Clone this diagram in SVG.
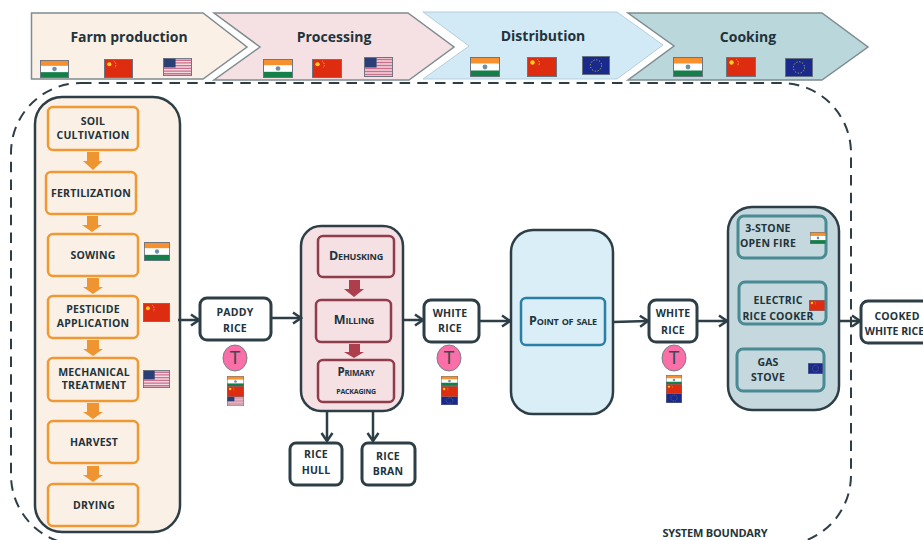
<svg xmlns="http://www.w3.org/2000/svg" width="923" height="540" viewBox="0 0 923 540">
<style>
text{font-family:"Open Sans","Liberation Sans",sans-serif;font-weight:700;fill:#22333b;text-anchor:middle}
.h{font-size:14px}
.l{font-size:10.5px;letter-spacing:.2px}
.s{font-size:12.500px;font-variant:small-caps;letter-spacing:-.2px}
.chev{stroke:#7f8c90;stroke-width:1.5}
.panel{stroke:#2d3e46;stroke-width:2.5}
.o{fill:#fbf0e6;stroke:#ee9933;stroke-width:2.5}
.r{fill:#f5e1e4;stroke:#8f3d4a;stroke-width:2.5}
.b{fill:#d9eef6;stroke:#2a7fa5;stroke-width:2.5}
.t{fill:#c5d8dd;stroke:#4a8a93;stroke-width:3}
.w{fill:#fff;stroke:#2d3e46;stroke-width:3}
.circ{fill:#fb6fa8;stroke:#7a7f85;stroke-width:1}
.tt{font-size:18px;font-weight:400;font-family:"Liberation Sans",sans-serif;fill:#3a4a52}
.c{stroke:#2d3e46;stroke-width:2.5;fill:none;marker-end:url(#open)}
.bd{fill:none;stroke:#2d3e46;stroke-width:2;stroke-dasharray:10.5 7.2}
.oa{fill:#ee9430}
.ra{fill:#ad3f4d}
</style>
<defs>
<marker id="open" markerUnits="userSpaceOnUse" markerWidth="12" markerHeight="14" refX="10" refY="7" orient="auto"><path d="M2,1.5 L10,7 L2,12.5" fill="none" stroke="#2d3e46" stroke-width="2.5"/></marker>
<symbol id="in" viewBox="0 0 30 20" preserveAspectRatio="none"><rect width="30" height="20" fill="#fff"/><rect width="30" height="6.500" fill="#f7902f"/><rect y="13.500" width="30" height="6.500" fill="#157f4a"/><circle cx="15" cy="10" r="2.400" fill="#6f8fa8"/><rect x=".5" y=".5" width="29" height="19" fill="none" stroke="#6b7580"/></symbol>
<symbol id="cn" viewBox="0 0 30 20" preserveAspectRatio="none"><rect width="30" height="20" fill="#dd2c10"/><circle cx="5.500" cy="5.500" r="2.200" fill="#f5d01e"/><path d="M10,2 a5,5 0 0 1 1.500,7" fill="none" stroke="#f0b020" stroke-width="1" stroke-dasharray="1.500 1"/><rect x=".5" y=".5" width="29" height="19" fill="none" stroke="#6b7580"/></symbol>
<symbol id="us" viewBox="0 0 30 20" preserveAspectRatio="none"><rect width="30" height="20" fill="#f4d9e0"/><path d="M0,2.500H30M0,5.500H30M0,8.500H30M0,11.500H30M0,14.500H30M0,17.500H30" stroke="#c9708c" stroke-width="1.400"/><rect width="13" height="10.500" fill="#2a3f75"/><rect x=".5" y=".5" width="29" height="19" fill="none" stroke="#6b7580"/></symbol>
<symbol id="eu" viewBox="0 0 30 20" preserveAspectRatio="none"><rect width="30" height="20" fill="#1a2a8c"/><circle cx="15" cy="10" r="6" fill="none" stroke="#c9b84a" stroke-width="1" stroke-dasharray="1.200 1.900"/><rect x=".5" y=".5" width="29" height="19" fill="none" stroke="#6b7580"/></symbol>
</defs>

<g id="stage-farm"><path class="chev" fill="#fbf0e6" d="M31.500,13H203L247,47L203,79H31.500Z"/><text class="h" x="129" y="42">Farm production</text>
<use href="#in" x="40" y="60" width="29" height="18"/><use href="#cn" x="104" y="59" width="29" height="19"/><use href="#us" x="163" y="58" width="29" height="18"/></g>
<g id="stage-processing"><path class="chev" fill="#f5e1e4" d="M214,13H408L454,47L409,80H214L260,47Z"/><text class="h" x="334" y="42">Processing</text>
<use href="#in" x="263" y="59" width="30" height="19"/><use href="#cn" x="312" y="59" width="30" height="19"/><use href="#us" x="364" y="57" width="29" height="20"/></g>
<g id="stage-distribution"><path fill="#d2eaf5" stroke="#a9c4d0" stroke-width=".8" d="M423,12H617L663,45L617,79H423L469,46Z"/><text class="h" x="543" y="41">Distribution</text>
<use href="#in" x="470" y="57" width="30" height="20"/><use href="#cn" x="527" y="57" width="30" height="20"/><use href="#eu" x="582" y="56" width="28" height="19"/></g>
<g id="stage-cooking"><path class="chev" fill="#bad7dc" d="M628,13H822L868,47L822,80H628L674,46Z"/><text class="h" x="748" y="42">Cooking</text>
<use href="#in" x="673" y="57" width="30" height="20"/><use href="#cn" x="726" y="57" width="30" height="20"/><use href="#eu" x="785" y="58" width="28" height="19"/></g>

<g id="farm-panel"><rect class="panel" fill="#fbf0e6" x="35" y="97" width="145" height="435" rx="27"/></g>
<g id="soil"><rect class="o" x="48" y="107" width="90" height="43" rx="5"/><text class="l" x="93" y="125">SOIL</text><text class="l" x="93" y="139">CULTIVATION</text></g>
<g id="fertilization"><rect class="o" x="46" y="172" width="90" height="42" rx="5"/><text class="l" x="91" y="197">FERTILIZATION</text></g>
<g id="sowing"><rect class="o" x="48" y="234" width="90" height="42" rx="5"/><text class="l" x="93" y="259">SOWING</text><use href="#in" x="144" y="242" width="26" height="19"/></g>
<g id="pesticide"><rect class="o" x="48" y="296" width="90" height="42" rx="5"/><text class="l" x="93" y="313">PESTICIDE</text><text class="l" x="93" y="327">APPLICATION</text><use href="#cn" x="143" y="303" width="27" height="19"/></g>
<g id="mechanical"><rect class="o" x="48" y="358" width="90" height="43" rx="5"/><text class="l" x="94" y="376">MECHANICAL</text><text class="l" x="94" y="389">TREATMENT</text><use href="#us" x="143" y="370" width="27" height="18"/></g>
<g id="harvest"><rect class="o" x="48" y="421" width="90" height="42" rx="5"/><text class="l" x="94" y="446">HARVEST</text></g>
<g id="drying"><rect class="o" x="48" y="484" width="90" height="42" rx="5"/><text class="l" x="94" y="509">DRYING</text></g>

<g id="paddy"><rect class="w" x="200" y="298" width="71" height="42" rx="7"/><text class="l" x="235" y="316">PADDY</text><text class="l" x="235" y="332">RICE</text>
<ellipse class="circ" cx="235" cy="358" rx="12" ry="13"/><text class="tt" x="235" y="364">T</text>
<use href="#in" x="227" y="376" width="17" height="11"/><use href="#us" x="227" y="396" width="17" height="10"/><use href="#cn" x="227" y="386" width="17" height="11"/></g>

<g id="processing-panel"><rect class="panel" fill="#f5e1e4" x="301" y="226" width="102" height="185" rx="20"/></g>
<g id="dehusking"><rect class="r" x="318" y="236" width="76" height="41" rx="5"/><text class="s" x="356" y="260">Dehusking</text></g>
<g id="milling"><rect class="r" x="316" y="300" width="75" height="42" rx="5"/><text class="s" x="354" y="324">Milling</text></g>
<g id="packaging"><rect class="r" x="318" y="360" width="76" height="42" rx="5"/><text class="s" style="font-size:11.500px" x="356" y="376">Primary</text><text class="s" style="font-size:10.500px" x="356" y="393.500">packaging</text></g>

<g id="white-1"><rect class="w" x="424" y="300" width="55" height="42" rx="7"/><text class="l" x="450" y="317">WHITE</text><text class="l" x="450" y="332">RICE</text>
<ellipse class="circ" cx="449" cy="358" rx="12" ry="13"/><text class="tt" x="449" y="364">T</text>
<use href="#in" x="441" y="376" width="17" height="10"/><use href="#eu" x="441" y="396" width="17" height="9"/><use href="#cn" x="441" y="386" width="17" height="11"/></g>
<g id="hull"><rect class="w" x="290" y="443" width="52" height="42" rx="6"/><text class="l" x="316" y="458">RICE</text><text class="l" x="316" y="474">HULL</text></g>
<g id="bran"><rect class="w" x="362" y="443" width="53" height="42" rx="6"/><text class="l" x="388" y="460">RICE</text><text class="l" x="388" y="475">BRAN</text></g>

<g id="pos-panel"><rect class="panel" fill="#d9eef6" x="511" y="230" width="102" height="184" rx="22"/></g>
<g id="pos"><rect class="b" x="521" y="298" width="84" height="47" rx="5"/><text class="s" x="563" y="325">Point of sale</text></g>

<g id="white-2"><rect class="w" x="649" y="300" width="48" height="42" rx="7"/><text class="l" x="673" y="317">WHITE</text><text class="l" x="673" y="334">RICE</text>
<ellipse class="circ" cx="674" cy="358" rx="12" ry="13"/><text class="tt" x="674" y="364">T</text>
<use href="#in" x="666" y="375" width="16" height="10"/><use href="#eu" x="666" y="393" width="16" height="10"/><use href="#cn" x="666" y="384" width="16" height="10"/></g>

<g id="cooking-panel"><rect class="panel" fill="#c5d8dd" x="728" y="207" width="111" height="203" rx="24"/></g>
<g id="stone"><rect class="t" x="738" y="216" width="88" height="42" rx="6"/><text class="l" x="768" y="232">3-STONE</text><text class="l" x="768" y="247">OPEN FIRE</text><use href="#in" x="810" y="232" width="16" height="12"/></g>
<g id="electric"><rect class="t" x="739" y="282" width="87" height="42" rx="6"/><text class="l" x="778" y="304">ELECTRIC</text><text class="l" x="778" y="320">RICE COOKER</text><use href="#cn" x="809" y="300" width="16" height="11"/></g>
<g id="gas"><rect class="t" x="737" y="349" width="87" height="42" rx="6"/><text class="l" x="768" y="366">GAS</text><text class="l" x="768" y="381">STOVE</text><use href="#eu" x="808" y="363" width="15" height="11"/></g>

<g id="cooked"><rect class="w" x="861" y="301" width="70" height="42" rx="7"/><text class="l" x="897" y="320">COOKED</text><text class="l" style="letter-spacing:0" x="894.500" y="335">WHITE RICE</text></g>

<g id="connectors">
<path class="c" d="M178,320H199"/>
<path class="c" d="M271,318H301"/>
<path class="c" d="M403,320H423"/>
<path class="c" d="M479,321H510"/>
<path class="c" d="M613,322L648,321"/>
<path class="c" d="M697,321H727"/>
<path class="c" d="M839,321H860"/>
<path class="c" d="M327,411V441"/>
<path class="c" d="M373,411V441"/>
<path class="oa" d="M87,152H99V161H102.500L93,170L83,161H87Z"/>
<path class="oa" d="M87,216H98V225H102L92,232L82,225H87Z"/>
<path class="oa" d="M87,278H99V287H103L93,294L83,287H87Z"/>
<path class="oa" d="M87,340H99V349H103L93,356L83,349H87Z"/>
<path class="oa" d="M87,403H99V412H103L93,419L83,412H87Z"/>
<path class="oa" d="M87,466H99V475H103L93,482L83,475H87Z"/>
<path class="ra" d="M349,280H360V289H364L354,297L344,289H349Z"/>
<path class="ra" d="M349,344H360V352H364L354,358L344,352H349Z"/>
</g>
<g id="boundary"><rect class="bd" x="11" y="83" width="840" height="462" rx="70"/><text style="font-size:11px;letter-spacing:-.2px" x="715" y="537">SYSTEM BOUNDARY</text></g>
</svg>
